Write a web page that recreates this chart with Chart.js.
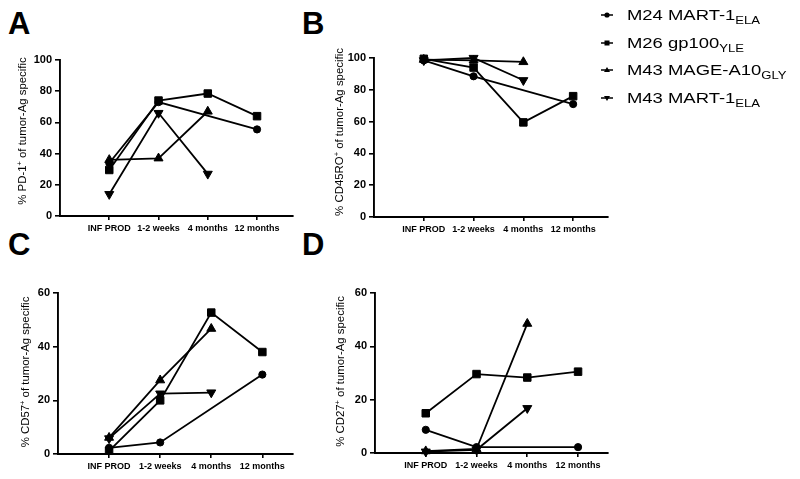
<!DOCTYPE html>
<html><head><meta charset="utf-8">
<script src="https://cdn.jsdelivr.net/npm/chart.js@4"></script>
<style>
html,body{margin:0;padding:0;background:#fff;width:800px;height:479px;overflow:hidden;font-family:"Liberation Sans",Arial,sans-serif;color:#000;}
.panel{position:absolute;}
.letter{position:absolute;font-weight:bold;font-size:31px;line-height:31px;}
.leg{position:absolute;left:600px;width:200px;height:18px;line-height:18px;font-size:15.5px;white-space:nowrap;}
.leg svg{position:absolute;left:0;top:4.4px;}
.lt{position:absolute;left:27px;top:0;transform:scaleX(1.19);transform-origin:0 0;}
.sub{font-size:11px;position:relative;top:4px;}
</style>
</head><body>
<div class="letter" style="left:8px;top:8px">A</div>
<div class="letter" style="left:302px;top:8px">B</div>
<div class="letter" style="left:8px;top:229px">C</div>
<div class="letter" style="left:302px;top:229px">D</div>

<div class="panel" style="left:0;top:0"><canvas id="cA" width="300" height="240"></canvas></div>
<div class="panel" style="left:300px;top:0"><canvas id="cB" width="320" height="240"></canvas></div>
<div class="panel" style="left:0;top:240px"><canvas id="cC" width="300" height="239"></canvas></div>
<div class="panel" style="left:300px;top:240px"><canvas id="cD" width="320" height="239"></canvas></div>

<div id="legend"></div>

<script>
// ---------- DATA ----------
const categories = ['INF PROD', '1-2 weeks', '4 months', '12 months'];
const seriesNames = ['M24 MART-1', 'M26 gp100', 'M43 MAGE-A10', 'M43 MART-1'];
const seriesSubs = ['ELA', 'YLE', 'GLY', 'ELA'];

// Panel A: % PD-1+ of tumor-Ag specific
const pd1_M24_MART1   = [34, 73, null, 55.5];
const pd1_M26_gp100   = [29.5, 74, 78.5, 64];
const pd1_M43_MAGEA10 = [36, 37, 67, null];
const pd1_M43_MART1   = [14, 66, 27, null];

// Panel B: % CD45RO+ of tumor-Ag specific
const cd45ro_M24_MART1   = [98.5, 88.5, null, 71];
const cd45ro_M26_gp100   = [99.5, 94, 59.5, 76];
const cd45ro_M43_MAGEA10 = [99, 98.5, 97.5, null];
const cd45ro_M43_MART1   = [98.5, 100, 86, null];

// Panel C: % CD57+ of tumor-Ag specific
const cd57_M24_MART1   = [2.3, 4.3, null, 29.6];
const cd57_M26_gp100   = [1.2, 20, 52.7, 38];
const cd57_M43_MAGEA10 = [6.1, 27.5, 46.7, null];
const cd57_M43_MART1   = [5.8, 22.5, 22.9, null];

// Panel D: % CD27+ of tumor-Ag specific
const cd27_M24_MART1   = [8.7, 2.2, null, 2.2];
const cd27_M26_gp100   = [14.9, 29.6, 28.3, 30.5];
const cd27_M43_MAGEA10 = [0.7, 1.5, 48.5, null];
const cd27_M43_MART1   = [0.5, 1.2, 16.8, null];

// y tick settings
const yMaxAB = 100, yMaxCD = 60, yStep = 20;

// ---------- STYLE ----------
const FONT = '"Liberation Sans", Arial, sans-serif';
const markers = [
  {style:'circle', r:3.6, rot:0},
  {style:'rect', r:5.3, rot:0},
  {style:'triangle', r:5.2, rot:0},
  {style:'triangle', r:5.2, rot:180}
];

const yTitlePlugin = {
  id: 'yTitle',
  afterDraw(chart, args, o) {
    if (!o || !o.pre) return;
    const ctx = chart.ctx;
    ctx.save();
    ctx.translate(o.x, o.y);
    ctx.rotate(-Math.PI / 2);
    ctx.scale(o.sx, 1);
    const f = o.size + 'px ' + FONT;
    const fs = (o.size * 0.65) + 'px ' + FONT;
    ctx.font = f; const w1 = ctx.measureText(o.pre).width; const w3 = ctx.measureText(o.post).width;
    ctx.font = fs; const w2 = ctx.measureText(o.sup).width;
    let x = -(w1 + w2 + w3) / 2;
    const base = o.size * 0.36;
    ctx.fillStyle = '#000';
    ctx.textBaseline = 'alphabetic';
    ctx.textAlign = 'left';
    ctx.font = f; ctx.fillText(o.pre, x, base); x += w1;
    ctx.font = fs; ctx.fillText(o.sup, x, base - o.size * 0.4); x += w2;
    ctx.font = f; ctx.fillText(o.post, x, base);
    ctx.restore();
  }
};

function makeChart(id, series, cfg) {
  const datasets = series.map((vals, si) => ({
    label: seriesNames[si],
    data: vals.map((v, i) => ({x: i + 1, y: v})),
    borderColor: '#000',
    backgroundColor: '#000',
    borderWidth: 1.8,
    pointStyle: markers[si].style,
    pointRadius: markers[si].r,
    pointRotation: markers[si].rot,
    pointBorderWidth: 1,
    pointBackgroundColor: '#000',
    pointBorderColor: '#000',
    spanGaps: true,
    tension: 0,
    clip: false
  }));
  return new Chart(document.getElementById(id), {
    type: 'line',
    data: {datasets},
    plugins: [yTitlePlugin],
    options: {
      responsive: false,
      animation: false,
      events: [],
      layout: {padding: {left: 0, right: cfg.padR, top: cfg.padT, bottom: 0}},
      plugins: {
        legend: {display: false},
        tooltip: {enabled: false},
        yTitle: cfg.title
      },
      scales: {
        x: {
          type: 'linear', min: 0, max: cfg.xMax,
          afterBuildTicks: s => { s.ticks = categories.map((c, i) => ({value: i + 1})); },
          afterFit: s => { s.height = cfg.xH; },
          ticks: {
            callback: v => categories[v - 1] || '',
            font: {family: FONT, size: 9, weight: 'bold'},
            color: '#000', padding: 3, maxRotation: 0, autoSkip: false
          },
          grid: {drawOnChartArea: false, drawTicks: true, tickLength: 4, color: '#000', lineWidth: 1.6},
          border: {display: true, color: '#000', width: 1.9}
        },
        y: {
          min: 0, max: cfg.yMax,
          afterFit: s => { s.width = cfg.yW; },
          ticks: {
            stepSize: yStep,
            font: {family: FONT, size: 11, weight: 'bold'},
            color: '#000', padding: 3
          },
          grid: {drawOnChartArea: false, drawTicks: true, tickLength: 5, color: '#000', lineWidth: 1.6},
          border: {display: true, color: '#000', width: 1.9}
        }
      }
    }
  });
}

makeChart('cA', [pd1_M24_MART1, pd1_M26_gp100, pd1_M43_MAGEA10, pd1_M43_MART1],
  {xMax: 4.73, yMax: yMaxAB, yW: 60, padR: 7, padT: 60, xH: 24,
   title: {x: 22, y: 131, size: 10, sx: 1.14, pre: '% PD-1', sup: '+', post: ' of tumor-Ag specific'}});
makeChart('cB', [cd45ro_M24_MART1, cd45ro_M26_gp100, cd45ro_M43_MAGEA10, cd45ro_M43_MART1],
  {xMax: 4.7, yMax: yMaxAB, yW: 74, padR: 12, padT: 58, xH: 23,
   title: {x: 39, y: 132, size: 10, sx: 1.14, pre: '% CD45RO', sup: '+', post: ' of tumor-Ag specific'}});
makeChart('cC', [cd57_M24_MART1, cd57_M26_gp100, cd57_M43_MAGEA10, cd57_M43_MART1],
  {xMax: 4.6, yMax: yMaxCD, yW: 58, padR: 7, padT: 53, xH: 25,
   title: {x: 25, y: 132, size: 10, sx: 1.14, pre: '% CD57', sup: '+', post: ' of tumor-Ag specific'}});
makeChart('cD', [cd27_M24_MART1, cd27_M26_gp100, cd27_M43_MAGEA10, cd27_M43_MART1],
  {xMax: 4.59, yMax: yMaxCD, yW: 75, padR: 12, padT: 53, xH: 26,
   title: {x: 40, y: 131.5, size: 10, sx: 1.14, pre: '% CD27', sup: '+', post: ' of tumor-Ag specific'}});

// ---------- LEGEND ----------
const legTops = [5.6, 33.9, 61.1, 88.9];
const markerSvg = [
  '<circle cx="7" cy="5" r="2.6" fill="#000"/>',
  '<rect x="4.5" y="2.5" width="5" height="5" fill="#000"/>',
  '<polygon points="7,2 10,7 4,7" fill="#000"/>',
  '<polygon points="7,8 10,3 4,3" fill="#000"/>'
];
const legend = document.getElementById('legend');
seriesNames.forEach((n, i) => {
  const row = document.createElement('div');
  row.className = 'leg';
  row.style.top = legTops[i] + 'px';
  row.innerHTML = '<svg width="14" height="10" viewBox="0 0 14 10"><line x1="1" y1="5" x2="13" y2="5" stroke="#000" stroke-width="1.5"/>' +
    markerSvg[i] + '</svg><span class="lt">' + n + '<span class="sub">' + seriesSubs[i] + '</span></span>';
  legend.appendChild(row);
});
</script>
</body></html>
